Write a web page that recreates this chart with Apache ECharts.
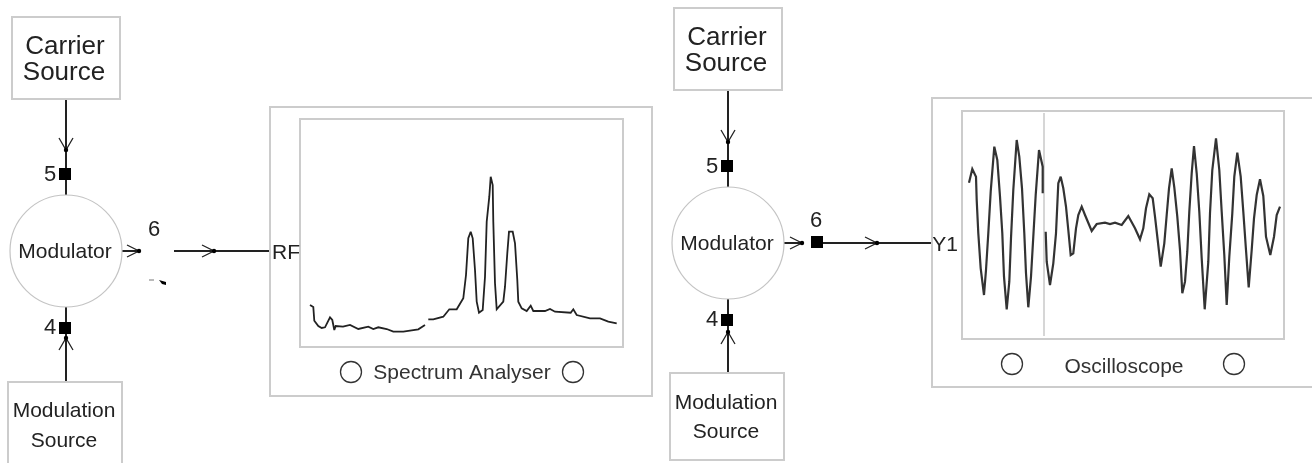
<!DOCTYPE html>
<html>
<head>
<meta charset="utf-8">
<title>Modulator setup</title>
<script src="https://cdn.jsdelivr.net/npm/echarts@6/dist/echarts.min.js"></script>
<style>
  html, body { margin: 0; padding: 0; background: #fff; }
  #main { width: 1312px; height: 463px; }
</style>
</head>
<body>
<div id="main"></div>
<script>
// x = pixels from the left of the display, y = height above its bottom edge
const spectrumX = [10,13.3,14.3,18.3,21.7,25,30,32.3,34.3,35.7,43,50,58.3,68.3,73.3,78.3,86.7,93.3,103.3,118.3,125,null,
  128.3,133.3,143.3,149.3,156.7,163.3,166,168.3,170.7,172.7,175,176.7,179,182.7,185,186.7,189.3,190.7,192.7,193.3,195,196.7,
  203.3,205,207.3,209,212.7,215,217.3,218.3,221.7,226.7,230.7,233.3,245,250,255,270.7,273.3,276.7,290,300,308.3,316.7];
const spectrumY = [42,40,26.3,21,19,19.7,29.7,27,17,21,20.3,22,18,20.3,18,19.7,18,15.3,15.3,17.7,22,null,
  27.7,27.7,30.3,37.7,37.7,48.7,72,108.7,115.3,108.7,77,45.3,34.3,37,70.3,125.3,150.3,170.3,162,125.3,63.7,37.7,
  45.3,60.3,93.7,115.3,115.3,103.7,67,45.3,38.7,36,41.3,36,36,38,35.3,34.3,37.7,32,28.7,28.7,25.3,23.7];

const scopeX = [7,10.3,14,14.7,16.3,18.7,22,24,26.3,28.7,32.3,35.3,38,40.3,42,44.7,47.3,49,51.3,54.7,57.3,60,62.3,64,66.3,69,71.3,73.7,77,80.7,80.7,null,
  83.7,84.7,88,91.3,94,96.3,98.7,101.3,104,106.3,108.7,111.3,114,116.3,119.7,123,129.7,134.7,143,148,153,159.7,166.3,168,173,178,181.3,184,187.3,190.7,
  193,195.7,198.7,202.3,204.7,207,209.7,212.3,215.3,218,220.3,223,225.3,227.3,229.7,232,234.7,237.3,239.7,242.7,246.3,248,250.3,254,257.3,259.7,262.3,264.7,
  267.3,270.3,272.3,275.3,278.7,281.3,284,286.7,289.7,292,294.7,298,301.3,304,308.3,312,314.7,318];
const scopeY = [156.3,170,162.3,139,105.7,70.7,44,69,105.7,147.3,192.3,179,142.3,105.7,62.3,29.7,57.3,100.7,149,199,182.3,150.7,105.7,65.7,31.7,62.3,102.3,144,189,172.3,145.7,null,
  107.3,77.3,54,75.7,105.7,155.7,162.3,150.7,132.3,109,84,85.7,110.7,124,132.3,124,108,115,116.3,115,116.3,114,123,122.3,110.7,99.7,110.7,130.7,144.7,140.7,
  122.3,99,72.3,95.7,124,150.7,170.7,151.7,122.3,89,45.7,57.3,87.3,127.3,165.7,193,165.7,127.3,80.7,29.7,77.3,125.7,169,200.7,169,127.3,84,34,
  82.3,125.7,162.3,186.3,162.3,127.3,89,51.7,89,120.7,144,159.7,143,102.3,84,102.3,124,132.3];
const cursorX = [82, 82];
const cursorY = [3, 226];

const pairs = (xs, ys) => xs.map((x, i) => (x === null ? [null, null] : [x, ys[i]]));

const INK = '#222';
const GREY = '#cccccc';
const FONT = 'Liberation Sans';

const box = (x, y, w, h) => ({ type: 'rect', shape: { x, y, width: w, height: h }, style: { fill: 'none', stroke: GREY, lineWidth: 2 } });
const wire = (x1, y1, x2, y2) => ({ type: 'line', shape: { x1, y1, x2, y2 }, style: { stroke: INK, lineWidth: 2 } });
const label = (text, x, y, size, extra) => ({ type: 'text', style: Object.assign({ text, x, y, fill: INK, font: size + 'px "' + FONT + '"', align: 'center', verticalAlign: 'middle' }, extra) });
const node = (cx, cy) => ({ type: 'rect', shape: { x: cx - 6, y: cy - 6, width: 12, height: 12 }, style: { fill: '#000' } });
const ring = (cx, cy, r, stroke, lw) => ({ type: 'circle', shape: { cx, cy, r }, style: { fill: '#fff', stroke, lineWidth: lw } });
// open chevron, dx/dy is the direction it points in
const arrow = (x, y, dx, dy) => ({ type: 'polyline',
  shape: { points: [[x - dx * 12 - dy * 7, y - dy * 12 - dx * 6], [x, y], [x - dx * 12 + dy * 7, y - dy * 12 + dx * 6]] },
  style: { fill: 'none', stroke: INK, lineWidth: 1.3 } });
const dot = (x, y) => ({ type: 'circle', shape: { cx: x, cy: y, r: 2.2 }, style: { fill: '#000' } });

const graphics = [
  // left rig
  wire(66, 99, 66, 195), wire(66, 307, 66, 381),
  wire(122, 251, 140, 251), wire(174, 251, 270, 251),
  box(12, 17, 108, 82), box(8, 382, 114, 90),
  ring(66, 251, 56, '#c4c4c4', 1.2),
  label('Carrier', 65, 47, 26), label('Source', 64, 73, 26),
  label('Modulator', 65, 252, 21),
  label('Modulation', 64, 411, 21), label('Source', 64, 441, 21),
  node(65, 174), node(65, 328),
  label('5', 50, 175, 22), label('4', 50, 328, 22), label('6', 154, 230, 22),
  arrow(66, 150, 0, 1), dot(66, 150), arrow(66, 338, 0, -1), dot(66, 338),
  arrow(139, 251, 1, 0), dot(139, 251), arrow(214, 251, 1, 0), dot(214, 251),
  { type: 'polyline', shape: { points: [[149, 280], [154, 280]] }, style: { stroke: '#777', lineWidth: 1 } },
  { type: 'polygon', shape: { points: [[159, 280], [166, 282], [166, 285], [162, 284]] }, style: { fill: '#000' } },
  label('RF', 286, 253, 21),
  box(270, 107, 382, 289),
  ring(351, 372, 10.5, '#333', 1.3), ring(573, 372, 10.5, '#333', 1.3),
  label('Spectrum Analyser', 462, 373, 21, { fill: '#333' }),

  // right rig
  wire(728, 90, 728, 187), wire(728, 299, 728, 373),
  wire(783, 243, 803, 243), wire(823, 243, 932, 243),
  box(674, 8, 108, 82), box(670, 373, 114, 87),
  ring(728, 243, 56, '#c4c4c4', 1.2),
  label('Carrier', 727, 38, 26), label('Source', 726, 64, 26),
  label('Modulator', 727, 244, 21),
  label('Modulation', 726, 403, 21), label('Source', 726, 432, 21),
  node(727, 166), node(727, 320), node(817, 242),
  label('5', 712, 167, 22), label('4', 712, 320, 22), label('6', 816, 221, 22),
  arrow(728, 142, 0, 1), dot(728, 142), arrow(728, 332, 0, -1), dot(728, 332),
  arrow(802, 243, 1, 0), dot(802, 243), arrow(877, 243, 1, 0), dot(877, 243),
  label('Y1', 945, 245, 21),
  box(932, 98, 400, 289),
  ring(1012, 364, 10.5, '#333', 1.3), ring(1234, 364, 10.5, '#333', 1.3),
  label('Oscilloscope', 1124, 367, 21, { fill: '#333' })
];
graphics.forEach(g => { g.silent = true; });

const hiddenAxis = (gridIndex, max) => ({ type: 'value', gridIndex, min: 0, max, show: false });
const trace = (name, gridIndex, data, color, width) => ({
  name, type: 'line', xAxisIndex: gridIndex, yAxisIndex: gridIndex, data, showSymbol: false, symbol: 'none',
  connectNulls: false, silent: true, z: 5, lineStyle: { color, width, cap: 'butt', join: 'miter', miterLimit: 3 }
});

const chart = echarts.init(document.getElementById('main'), null, { renderer: 'canvas' });
chart.setOption({
  animation: false,
  backgroundColor: '#fff',
  grid: [
    { left: 300, top: 119, width: 323, height: 228, show: true, backgroundColor: 'transparent', borderColor: GREY, borderWidth: 2 },
    { left: 962, top: 111, width: 322, height: 228, show: true, backgroundColor: 'transparent', borderColor: GREY, borderWidth: 2 }
  ],
  xAxis: [hiddenAxis(0, 323), hiddenAxis(1, 322)],
  yAxis: [hiddenAxis(0, 228), hiddenAxis(1, 228)],
  graphic: { elements: graphics },
  series: [
    trace('Spectrum', 0, pairs(spectrumX, spectrumY), '#222', 1.8),
    trace('Cursor', 1, pairs(cursorX, cursorY), GREY, 1.6),
    trace('Waveform', 1, pairs(scopeX, scopeY), '#333', 2.2)
  ]
});
</script>
</body>
</html>
